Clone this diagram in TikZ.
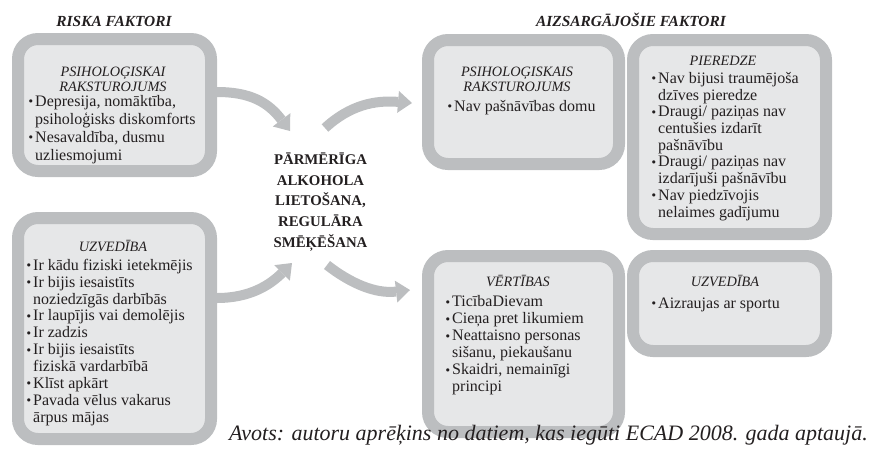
\documentclass[tikz,border=0pt]{standalone}
\usepackage{fontspec}
\setmainfont{Liberation Serif}
\newfontfamily\bulfont{DejaVu Serif}
\usetikzlibrary{arrows.meta}
\definecolor{bordergray}{RGB}{188,190,192}
\definecolor{innergray}{RGB}{230,231,232}
\definecolor{txt}{RGB}{35,31,32}
\newcommand\bl{\strut\makebox[7.5pt][l]{\raisebox{0.6pt}{\bulfont\fontsize{11}{11}\selectfont •}}}
\newcommand\ct{\strut\hspace*{7.5pt}}
\begin{document}
\begin{tikzpicture}[x=1pt,y=-1pt,
  box/.style={draw=bordergray, fill=innergray, line width=12pt, rounded corners=20pt, inner sep=0pt},
  ttl/.style={font=\fontsize{14.3}{15}\selectfont\itshape, inner sep=0pt, text=txt, align=center},
  body/.style={font=\fontsize{16}{17}\selectfont, inner sep=0pt, align=left, anchor=north west, text=txt},
  hdr/.style={font=\fontsize{15.4}{16}\selectfont\bfseries\itshape, inner sep=0pt, anchor=base, text=txt},
  arr/.style={draw=bordergray, line width=10pt, -{Triangle[length=14pt,width=22pt,line width=0pt]}}]
\useasboundingbox (0,0) rectangle (870,448);

% headers
\node[hdr] (hr) at (114,26.5) {RISKA FAKTORI};
\node[hdr] (hp) at (631,26.5) {AIZSARGĀJOŠIE FAKTORI};

% boxes
\node[box, minimum width=193pt, minimum height=132pt] (b1) at (114.5,105) {};
\node[box, minimum width=193pt, minimum height=221pt] (b2) at (114.5,328.5) {};
\node[box, minimum width=191pt, minimum height=124pt] (b3) at (523.5,102) {};
\node[box, minimum width=193pt, minimum height=194pt] (b4) at (729.5,137) {};
\node[box, minimum width=191pt, minimum height=176pt] (b5) at (523.5,344) {};
\node[box, minimum width=193pt, minimum height=95pt] (b6) at (729.5,303.5) {};

% titles
\node[ttl, anchor=north] (t1) at (113,65.5) {\strut PSIHOLOĢISKAI\\\strut RAKSTUROJUMS};
\node[ttl, anchor=base] (t2) at (113,251.7) {UZVEDĪBA};
\node[ttl, anchor=north] (t3) at (517,65.5) {\strut PSIHOLOĢISKAIS\\\strut RAKSTUROJUMS};
\node[ttl, anchor=base] (t4) at (723,65) {PIEREDZE};
\node[ttl, anchor=base] (t5) at (518,286.7) {VĒRTĪBAS};
\node[ttl, anchor=base] (t6) at (725,286.7) {UZVEDĪBA};

% bodies
\node[body, font=\fontsize{16}{18}\selectfont] (l1) at (27.5,93.4) {\bl Depresija, nomāktība,\\ \ct psiholoģisks diskomforts\\ \bl Nesavaldība, dusmu\\ \ct uzliesmojumi};
\node[body, font=\fontsize{16}{16.9}\selectfont] (l2) at (25.5,258.2) {\bl Ir kādu fiziski ietekmējis\\ \bl Ir bijis iesaistīts\\ \ct noziedzīgās darbībās\\ \bl Ir laupījis vai demolējis\\ \bl Ir zadzis\\ \bl Ir bijis iesaistīts\\ \ct fiziskā vardarbībā\\ \bl Klīst apkārt\\ \bl Pavada vēlus vakarus\\ \ct ārpus mājas};
\node[body] (l3) at (446.5,99.1) {\bl Nav pašnāvības domu};
\node[body, font=\fontsize{16}{16.7}\selectfont] (l4) at (650.5,71.6) {\bl Nav bijusi traumējoša\\ \ct dzīves pieredze\\ \bl Draugi/ paziņas nav\\ \ct centušies izdarīt\\ \ct pašnāvību\\ \bl Draugi/ paziņas nav\\ \ct izdarījuši pašnāvību\\ \bl Nav piedzīvojis\\ \ct nelaimes gadījumu};
\node[body] (l5) at (444.5,294.8) {\bl TicībaDievam\\ \bl Cieņa pret likumiem\\ \bl Neattaisno personas\\ \ct sišanu, piekaušanu\\ \bl Skaidri, nemainīgi\\ \ct principi};
\node[body] (l6) at (650.5,296.1) {\bl Aizraujas ar sportu};

% centre
\node[font=\fontsize{14.8}{20.7}\selectfont\bfseries, align=center, inner sep=0pt, text=txt] (ctr) at (320.5,202) {PĀRMĒRĪGA\\ALKOHOLA\\LIETOŠANA,\\REGULĀRA\\SMĒĶĒŠANA};

% arrows
\coordinate (a1s) at ([yshift=13pt]b1.east);
\coordinate (a1e) at (290,131);
\coordinate (a2s) at ([yshift=30.5pt]b2.east);
\coordinate (a2e) at (292,263);
\coordinate (a3s) at (325,128);
\coordinate (a3e) at (412,103);
\coordinate (a4s) at (327,265);
\coordinate (a4e) at (410,290);
\draw[arr] (a1s) .. controls (250,92) and (268,102) .. (a1e);
\draw[arr] (a2s) .. controls (250,298) and (270,285) .. (a2e);
\draw[arr] (a3s) .. controls (350,105) and (375,100) .. (a3e);
\draw[arr] (a4s) .. controls (350,283) and (375,294) .. (a4e);

% source
\node[font=\fontsize{22}{24}\selectfont\itshape, inner sep=0pt, anchor=base east, text=txt] (src) at (868,440) {Avots: autoru aprēķins no datiem, kas iegūti ECAD 2008. gada aptaujā.};
\end{tikzpicture}
\end{document}
